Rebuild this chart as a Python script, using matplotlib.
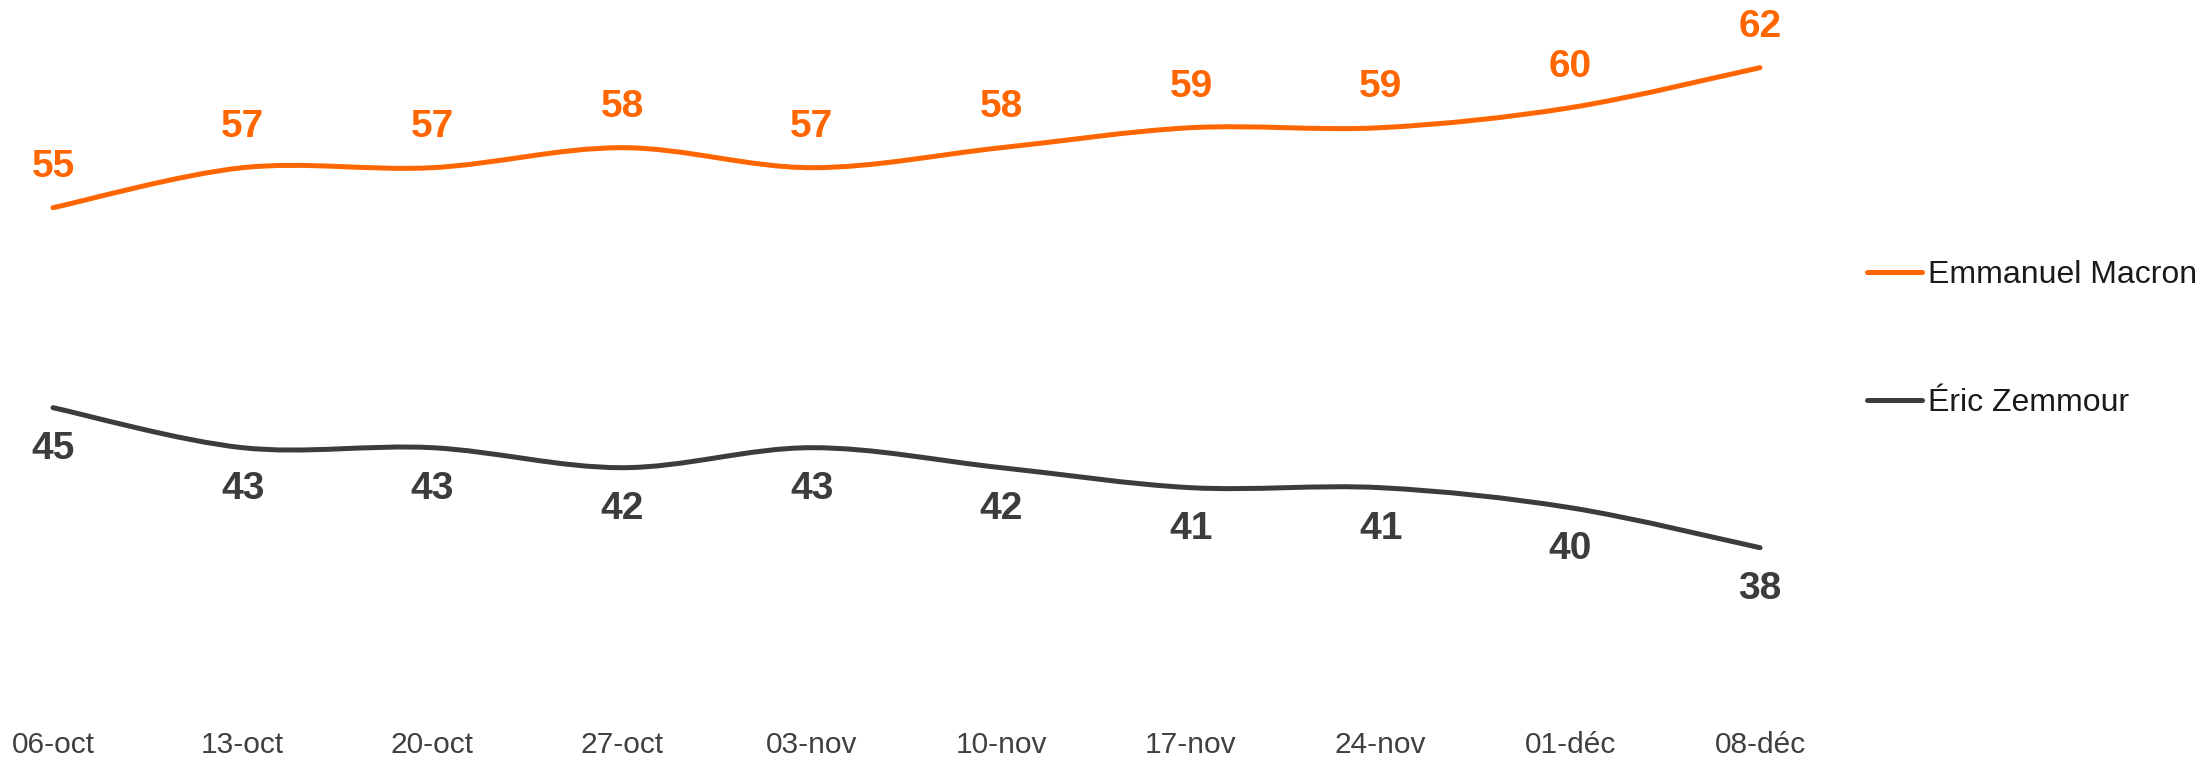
import matplotlib
matplotlib.use('Agg')
import matplotlib.pyplot as plt
from matplotlib.path import Path
from matplotlib.patches import PathPatch
from matplotlib.lines import Line2D

plt.rcParams['font.family'] = ['Liberation Sans', 'DejaVu Sans']

dates = ['06-oct', '13-oct', '20-oct', '27-oct', '03-nov', '10-nov',
         '17-nov', '24-nov', '01-déc', '08-déc']
macron = [55, 57, 57, 58, 57, 58, 59, 59, 60, 62]
zemmour = [45, 43, 43, 42, 43, 42, 41, 41, 40, 38]

ORANGE = '#ff6600'
GREY = '#3c3c3c'


def smooth_path(xs, ys):
  # cubic bezier through the points, like a "smoothed line" in a spreadsheet
  pts = list(zip(xs, ys))
  n = len(pts)
  verts = [pts[0]]
  codes = [Path.MOVETO]
  for i in range(n - 1):
    p0 = pts[i - 1] if i > 0 else pts[i]
    p1 = pts[i]
    p2 = pts[i + 1]
    p3 = pts[i + 2] if i + 2 < n else pts[i + 1]
    c1 = (p1[0] + (p2[0] - p0[0]) / 6.0, p1[1] + (p2[1] - p0[1]) / 6.0)
    c2 = (p2[0] - (p3[0] - p1[0]) / 6.0, p2[1] - (p3[1] - p1[1]) / 6.0)
    verts += [c1, c2, p2]
    codes += [Path.CURVE4] * 3
  return Path(verts, codes)


fig = plt.figure(figsize=(21.97, 7.57), dpi=100)
ax = fig.add_axes([0.02412, 0.09155, 0.77697, 0.8983])
ax.set_xlim(0, 9)
ax.set_ylim(31, 65)

xs = list(range(len(dates)))
for vals, col, off in [(macron, ORANGE, 29), (zemmour, GREY, -30)]:
  patch = PathPatch(smooth_path(xs, vals), facecolor='none', edgecolor=col,
                    lw=3.6, capstyle='round', clip_on=False)
  ax.add_patch(patch)
  for x, v in zip(xs, vals):
    ax.annotate(str(v), (x, v), xytext=(0, off), textcoords='offset points',
                ha='center', va='center', fontsize=28, fontweight='bold',
                color=col, annotation_clip=False)

ax.set_xticks(xs)
ax.set_xticklabels(dates, fontsize=21.5, color='#404040')
ax.tick_params(axis='x', length=0, pad=31)
ax.set_yticks([])
for s in ax.spines.values():
  s.set_visible(False)

handles = [Line2D([], [], color=ORANGE, lw=3.6, solid_capstyle='round'),
           Line2D([], [], color=GREY, lw=3.6, solid_capstyle='round')]
leg = fig.legend(handles, ['Emmanuel Macron', 'Éric Zemmour'],
                 loc='center left', bbox_to_anchor=(0.8498, 0.552),
                 frameon=False, fontsize=23, handlelength=1.72,
                 handletextpad=0.2, labelspacing=3.05, borderpad=0,
                 borderaxespad=0)
for t in leg.get_texts():
  t.set_color('#1a1a1a')

plt.savefig('out.png', dpi=100)
